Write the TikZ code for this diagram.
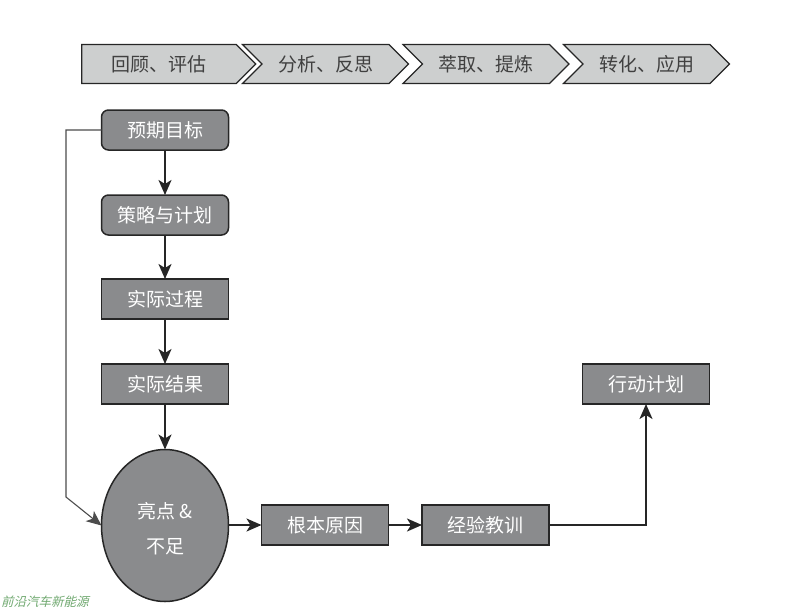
\documentclass[tikz,border=0pt]{standalone}
\usepackage{fontspec}
\usepackage{xcolor}
\usepackage{tikz}
\usetikzlibrary{arrows.meta, shapes.geometric, shapes.symbols}
\newfontfamily\cjk{Noto Sans CJK SC}
\definecolor{boxgray}{HTML}{8A8B8D}
\definecolor{stepgray}{HTML}{CDCFCF}
\definecolor{linedark}{HTML}{262626}
\definecolor{marklabel}{HTML}{6FA86F}
\tikzset{
    phase/.style={signal, signal to=east, signal from=west, draw=linedark, line width=1.2pt, fill=stepgray,
        text=black!75, minimum width=166, minimum height=39, inner xsep=0pt, inner ysep=0pt, outer sep=0pt, font=\cjk\fontsize{19}{23}\selectfont},
    softbox/.style={rectangle, rounded corners=7, draw=linedark, line width=1.5pt, fill=boxgray, text=white,
        minimum width=127, minimum height=40, outer sep=0pt, font=\cjk\fontsize{19}{23}\selectfont},
    hardbox/.style={softbox, rounded corners=0, line width=1.8pt},
    flow/.style={-{Stealth[length=15, width=13, inset=4]}, draw=linedark, line width=1.8pt},
}
\begin{document}
\begin{tikzpicture}[x=1pt, y=-1pt]
    \useasboundingbox (0,0) rectangle (800,610);
    % top row
    \node[phase, signal from=nowhere, minimum width=174] (review) at (159,64) {回顾、评估};
    \node[phase] (analyse) at (325.5,64) {分析、反思};
    \node[phase] (extract) at (486,64) {萃取、提炼};
    \node[phase] (apply) at (646.5,64) {转化、应用};
    % left column
    \node[softbox] (goal) at (165,130) {预期目标};
    \node[softbox] (plan) at (165,215) {策略与计划};
    \node[hardbox] (process) at (165,299) {实际过程};
    \node[hardbox] (result) at (165,384) {实际结果};
    \node[ellipse, draw=linedark, line width=1.5pt, fill=boxgray, text=white, minimum width=127, minimum height=152,
        inner sep=0pt, outer sep=0pt, align=center, font=\cjk\fontsize{19}{35}\selectfont] (review2) at (165,525.5) {\rule{0pt}{22pt}亮点 \&\\不足};
    % bottom row
    \node[hardbox] (cause) at (325,525) {根本原因};
    \node[hardbox] (lesson) at (485.5,525) {经验教训};
    \node[hardbox] (action) at (646,384) {行动计划};
    \node[anchor=west, inner sep=0pt, text=marklabel, font=\cjk\fontsize{12.5}{15}\selectfont, xslant=0.25] (source) at (2,602) {前沿汽车新能源};
    % connectors
    \coordinate (bend) at (66,497);
    \draw[flow] (goal) -- (plan);
    \draw[flow] (plan) -- (process);
    \draw[flow] (process) -- (result);
    \draw[flow] (result) -- (review2);
    \draw[flow] (review2.east |- cause) -- (cause);
    \draw[flow] (cause) -- (lesson);
    \draw[flow] (lesson.east) -| (action.south);
    \draw[flow, line width=1.1pt, draw=black!70] (goal.west) -| (bend) -- (review2.west);
\end{tikzpicture}
\end{document}
